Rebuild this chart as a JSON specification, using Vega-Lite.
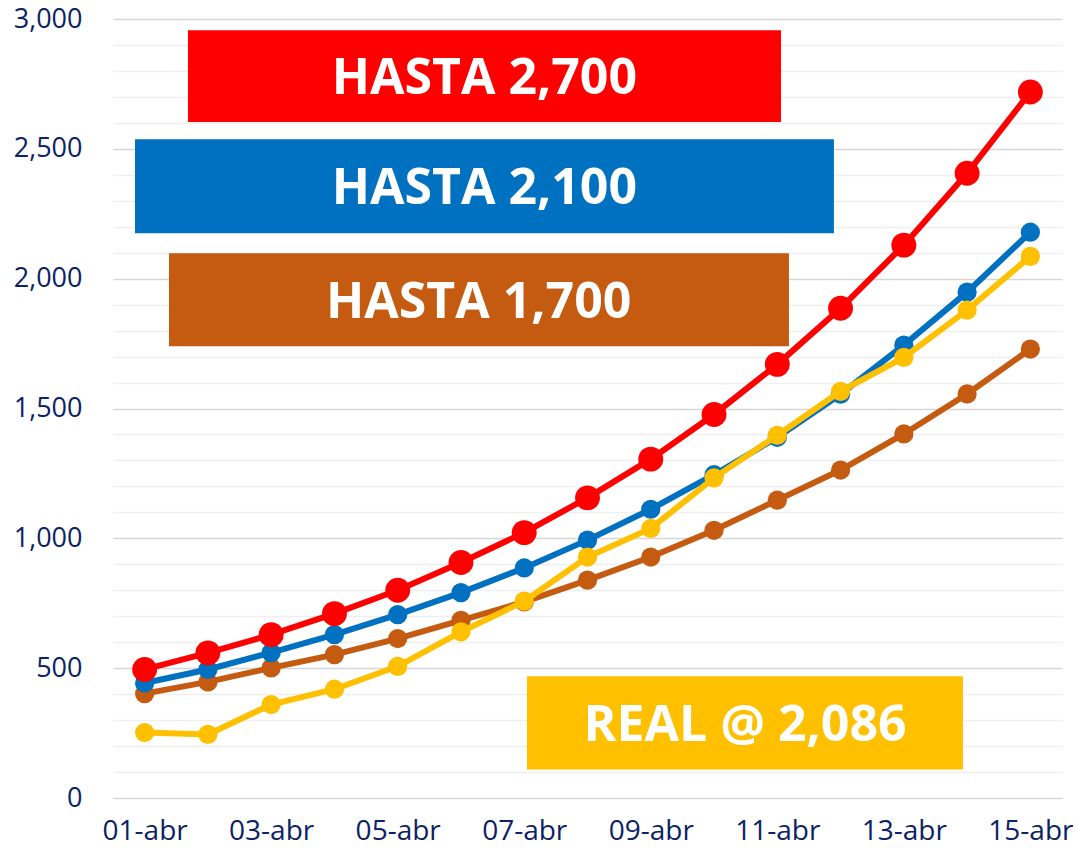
{
  "$schema": "https://vega.github.io/schema/vega-lite/v6.json",
  "width": 949,
  "height": 779,
  "autosize": {"type": "none"},
  "padding": {"left": 113, "top": 19, "right": 16, "bottom": 57},
  "background": "white",
  "config": {"view": {"stroke": null}, "font": "Open Sans", "axis": {"labelOverlap": false, "labelFlush": false}},
  "datasets": {
    "series": [
      {"dia": 1, "serie": "Hasta 1,700", "valor": 402},
      {"dia": 2, "serie": "Hasta 1,700", "valor": 447},
      {"dia": 3, "serie": "Hasta 1,700", "valor": 501},
      {"dia": 4, "serie": "Hasta 1,700", "valor": 552},
      {"dia": 5, "serie": "Hasta 1,700", "valor": 614},
      {"dia": 6, "serie": "Hasta 1,700", "valor": 684},
      {"dia": 7, "serie": "Hasta 1,700", "valor": 755},
      {"dia": 8, "serie": "Hasta 1,700", "valor": 839},
      {"dia": 9, "serie": "Hasta 1,700", "valor": 928},
      {"dia": 10, "serie": "Hasta 1,700", "valor": 1031},
      {"dia": 11, "serie": "Hasta 1,700", "valor": 1147},
      {"dia": 12, "serie": "Hasta 1,700", "valor": 1263},
      {"dia": 13, "serie": "Hasta 1,700", "valor": 1402},
      {"dia": 14, "serie": "Hasta 1,700", "valor": 1556},
      {"dia": 15, "serie": "Hasta 1,700", "valor": 1729},
      {"dia": 1, "serie": "Hasta 2,100", "valor": 443},
      {"dia": 2, "serie": "Hasta 2,100", "valor": 495},
      {"dia": 3, "serie": "Hasta 2,100", "valor": 560},
      {"dia": 4, "serie": "Hasta 2,100", "valor": 629},
      {"dia": 5, "serie": "Hasta 2,100", "valor": 706},
      {"dia": 6, "serie": "Hasta 2,100", "valor": 791},
      {"dia": 7, "serie": "Hasta 2,100", "valor": 886},
      {"dia": 8, "serie": "Hasta 2,100", "valor": 993},
      {"dia": 9, "serie": "Hasta 2,100", "valor": 1112},
      {"dia": 10, "serie": "Hasta 2,100", "valor": 1245},
      {"dia": 11, "serie": "Hasta 2,100", "valor": 1389},
      {"dia": 12, "serie": "Hasta 2,100", "valor": 1555},
      {"dia": 13, "serie": "Hasta 2,100", "valor": 1744},
      {"dia": 14, "serie": "Hasta 2,100", "valor": 1948},
      {"dia": 15, "serie": "Hasta 2,100", "valor": 2179},
      {"dia": 1, "serie": "Real", "valor": 252},
      {"dia": 2, "serie": "Real", "valor": 245},
      {"dia": 3, "serie": "Real", "valor": 360},
      {"dia": 4, "serie": "Real", "valor": 419},
      {"dia": 5, "serie": "Real", "valor": 507},
      {"dia": 6, "serie": "Real", "valor": 640},
      {"dia": 7, "serie": "Real", "valor": 758},
      {"dia": 8, "serie": "Real", "valor": 928},
      {"dia": 9, "serie": "Real", "valor": 1038},
      {"dia": 10, "serie": "Real", "valor": 1233},
      {"dia": 11, "serie": "Real", "valor": 1397},
      {"dia": 12, "serie": "Real", "valor": 1566},
      {"dia": 13, "serie": "Real", "valor": 1697},
      {"dia": 14, "serie": "Real", "valor": 1879},
      {"dia": 15, "serie": "Real", "valor": 2086},
      {"dia": 1, "serie": "Hasta 2,700", "valor": 495},
      {"dia": 2, "serie": "Hasta 2,700", "valor": 559},
      {"dia": 3, "serie": "Hasta 2,700", "valor": 629},
      {"dia": 4, "serie": "Hasta 2,700", "valor": 710},
      {"dia": 5, "serie": "Hasta 2,700", "valor": 800},
      {"dia": 6, "serie": "Hasta 2,700", "valor": 907},
      {"dia": 7, "serie": "Hasta 2,700", "valor": 1022},
      {"dia": 8, "serie": "Hasta 2,700", "valor": 1156},
      {"dia": 9, "serie": "Hasta 2,700", "valor": 1305},
      {"dia": 10, "serie": "Hasta 2,700", "valor": 1477},
      {"dia": 11, "serie": "Hasta 2,700", "valor": 1670},
      {"dia": 12, "serie": "Hasta 2,700", "valor": 1886},
      {"dia": 13, "serie": "Hasta 2,700", "valor": 2129},
      {"dia": 14, "serie": "Hasta 2,700", "valor": 2406},
      {"dia": 15, "serie": "Hasta 2,700", "valor": 2719}
    ],
    "cajas": [
      {"serie": "Hasta 2,700", "dia": 1.685, "dia_fin": 11.058, "valor": 2957, "valor_fin": 2603},
      {"serie": "Hasta 2,100", "dia": 0.848, "dia_fin": 11.895, "valor": 2537, "valor_fin": 2175},
      {"serie": "Hasta 1,700", "dia": 1.385, "dia_fin": 11.184, "valor": 2098, "valor_fin": 1740},
      {"serie": "Real", "dia": 7.043, "dia_fin": 13.934, "valor": 469, "valor_fin": 110}
    ],
    "rotulos": [
      {"etiqueta": "HASTA 2,700", "dia": 6.37, "valor": 2780},
      {"etiqueta": "HASTA 2,100", "dia": 6.37, "valor": 2356},
      {"etiqueta": "HASTA 1,700", "dia": 6.28, "valor": 1919},
      {"etiqueta": "REAL @ 2,086", "dia": 10.49, "valor": 290}
    ]
  },
  "encoding": {
    "x": {
      "field": "dia", "type": "quantitative", "title": null,
      "scale": {"domain": [0.5, 15.5], "nice": false, "zero": false},
      "axis": {
        "title": null, "values": [1, 3, 5, 7, 9, 11, 13, 15],
        "labelExpr": "(datum.value < 10 ? '0' : '') + datum.value + '-abr'",
        "grid": false, "ticks": false, "domain": false,
        "labelFont": "Open Sans", "labelFontSize": 28, "labelColor": "#0B2265",
        "labelPadding": 19, "labelFlush": false, "labelOverlap": false
      }
    },
    "y": {
      "field": "valor", "type": "quantitative", "title": null,
      "scale": {"domain": [0, 3000], "nice": false},
      "axis": {
        "title": null,
        "values": [0, 100, 200, 300, 400, 500, 600, 700, 800, 900, 1000, 1100, 1200, 1300, 1400, 1500, 1600, 1700, 1800, 1900, 2000, 2100, 2200, 2300, 2400, 2500, 2600, 2700, 2800, 2900, 3000],
        "labelExpr": "datum.value % 500 === 0 ? format(datum.value, ',') : ''",
        "ticks": false, "domain": false, "labelOverlap": false,
        "gridColor": {"condition": {"test": "datum.value % 500 === 0", "value": "#d6d6d6"}, "value": "#efefef"},
        "gridWidth": {"condition": {"test": "datum.value % 500 === 0", "value": 1.7}, "value": 1.3},
        "labelFont": "Open Sans", "labelFontSize": 27, "labelColor": "#0B2265",
        "labelPadding": 31, "labelFlush": false
      }
    }
  },
  "layer": [
    {
      "data": {"name": "series"},
      "transform": [{"filter": "datum.serie === 'Hasta 1,700'"}],
      "mark": {"type": "line", "strokeWidth": 6, "point": {"filled": true, "size": 370, "opacity": 1}},
      "encoding": {"color": {"value": "#C55A11"}}
    },
    {
      "data": {"name": "series"},
      "transform": [{"filter": "datum.serie === 'Hasta 2,100'"}],
      "mark": {"type": "line", "strokeWidth": 6, "point": {"filled": true, "size": 370, "opacity": 1}},
      "encoding": {"color": {"value": "#0070C0"}}
    },
    {
      "data": {"name": "series"},
      "transform": [{"filter": "datum.serie === 'Real'"}],
      "mark": {"type": "line", "strokeWidth": 6, "point": {"filled": true, "size": 370, "opacity": 1}},
      "encoding": {"color": {"value": "#FFC000"}}
    },
    {
      "data": {"name": "series"},
      "transform": [{"filter": "datum.serie === 'Hasta 2,700'"}],
      "mark": {"type": "line", "strokeWidth": 6, "point": {"filled": true, "size": 620, "opacity": 1}},
      "encoding": {"color": {"value": "#FF0000"}}
    },
    {
      "data": {"name": "cajas"},
      "mark": {"type": "rect"},
      "encoding": {
        "x2": {"field": "dia_fin"},
        "y2": {"field": "valor_fin"},
        "fill": {
          "field": "serie", "type": "nominal", "legend": null,
          "scale": {"domain": ["Hasta 2,700", "Hasta 2,100", "Hasta 1,700", "Real"], "range": ["#FF0000", "#0070C0", "#C55A11", "#FFC000"]}
        }
      }
    },
    {
      "data": {"name": "rotulos"},
      "mark": {"type": "text", "font": "Open Sans", "fontWeight": "bold", "fontSize": 50, "color": "white", "align": "center", "baseline": "middle", "dy": 3},
      "encoding": {
        "text": {"field": "etiqueta", "type": "nominal"}
      }
    }
  ]
}
